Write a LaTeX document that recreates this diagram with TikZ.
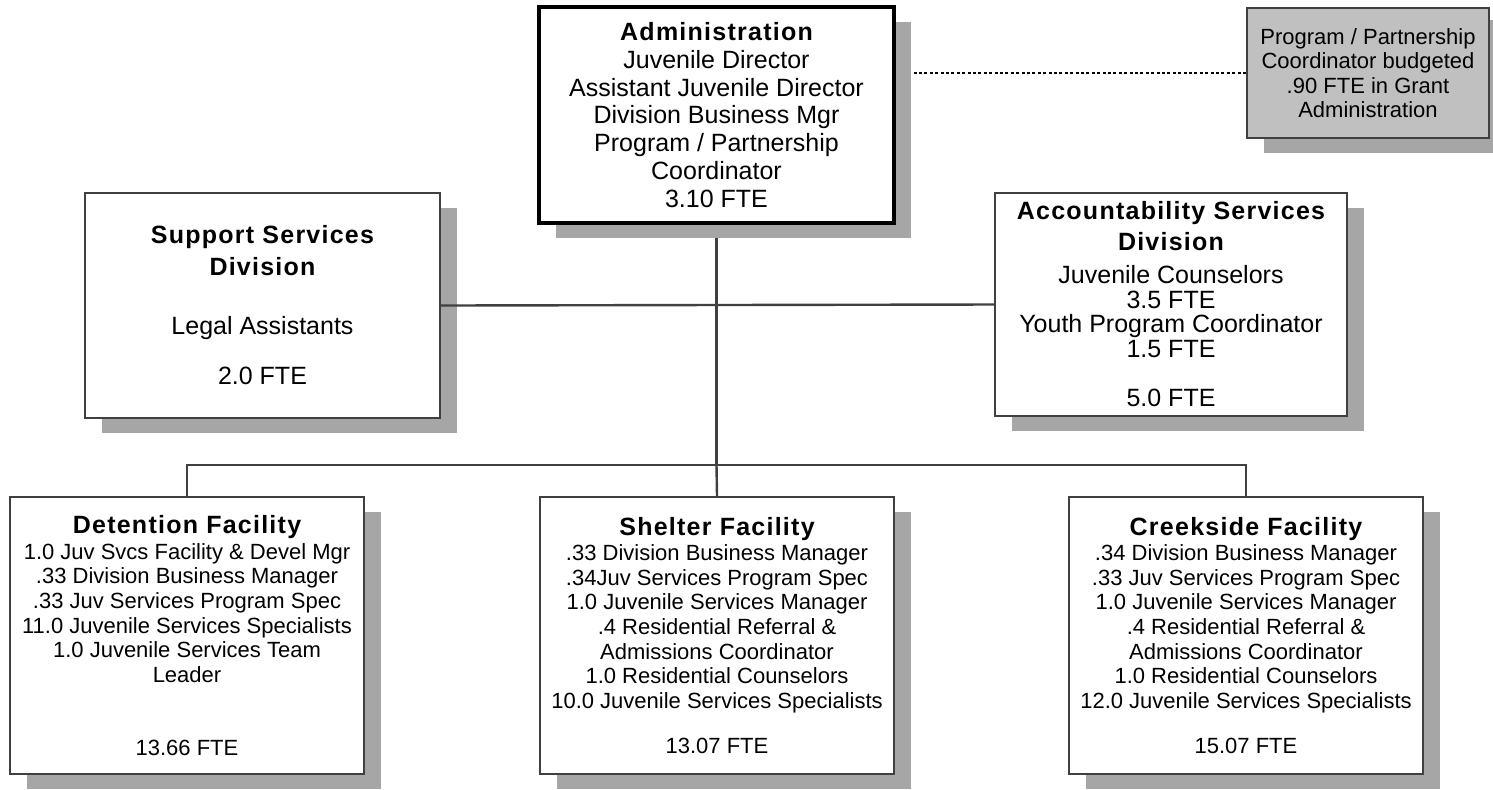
\documentclass[tikz,border=0pt]{standalone}
\usepackage{fontspec}
\setmainfont{Liberation Sans}
\newfontfamily\headfont[LetterSpace=5]{Liberation Sans}
\usetikzlibrary{shadows, backgrounds}
\definecolor{boxline}{HTML}{404040}
\definecolor{shadowgray}{HTML}{A6A6A6}
\definecolor{notefill}{HTML}{C0C0C0}
\newcommand\ttl[1]{{\headfont\bfseries\fontsize{12.5}{14}\selectfont #1}}

\begin{document}
\begin{tikzpicture}[x=0.5pt, y=-0.5pt,
  unit/.style={draw=boxline, line width=1pt, fill=white, inner sep=0pt, align=center,
    drop shadow={shadow xshift=8.5pt, shadow yshift=-7.5pt, opacity=1, fill=shadowgray}},
  facility/.style={unit, minimum width=177pt, minimum height=138.5pt, font=\fontsize{11}{12.3}\selectfont},
  link/.style={draw=boxline, line width=1.2pt}]
\useasboundingbox (0,0) rectangle (1493,789);

\begin{pgfonlayer}{background}
\coordinate (bus) at (716.5,465);
\end{pgfonlayer}

\node[unit, draw=black, line width=1.6pt, minimum width=177.5pt, minimum height=108pt,
  font=\fontsize{12.5}{13.85}\selectfont] (admin) at (716.5,115)
  {\ttl{Administration}\\ Juvenile Director\\ Assistant Juvenile Director\\ Division Business Mgr\\
   Program / Partnership\\ Coordinator\\ 3.10 FTE};

\node[unit, fill=notefill, minimum width=121pt, minimum height=65pt,
  drop shadow={shadow xshift=10pt, shadow yshift=-6pt, opacity=1, fill=shadowgray},
  font=\fontsize{11}{12.25}\selectfont] (grant) at (1368,73)
  {Program / Partnership\\ Coordinator budgeted\\ .90 FTE in Grant\\ Administration};

\node[unit, minimum width=177.5pt, minimum height=112.5pt, font=\fontsize{12.5}{12.5}\selectfont]
  (support) at (262.5,305.5)
  {\ttl{Support Services}\\[3.5pt] \ttl{Division}\\[17pt] Legal Assistants\\[12.5pt] 2.0 FTE};

\node[unit, minimum width=176pt, minimum height=111.5pt, font=\fontsize{12.5}{12.35}\selectfont]
  (acct) at (1171,304.5)
  {\ttl{Accountability Services}\\[3pt] \ttl{Division}\\[4pt] Juvenile Counselors\\ 3.5 FTE\\
   Youth Program Coordinator\\ 1.5 FTE\\[12.35pt] 5.0 FTE};

\node[facility] (detention) at (187,635.5)
  {\ttl{Detention Facility}\\[0.5pt] 1.0 Juv Svcs Facility \& Devel Mgr\\ .33 Division Business Manager\\
   .33 Juv Services Program Spec\\ 11.0 Juvenile Services Specialists\\ 1.0 Juvenile Services Team\\
   Leader\\[24.25pt] 13.66 FTE};

\node[facility] (shelter) at (717,635.5)
  {\ttl{Shelter Facility}\\[0.5pt] .33 Division Business Manager\\ .34Juv Services Program Spec\\
   1.0 Juvenile Services Manager\\ .4 Residential Referral \&\\ Admissions Coordinator\\
   1.0 Residential Counselors\\ 10.0 Juvenile Services Specialists\\[10.5pt] 13.07 FTE};

\node[facility] (creekside) at (1246,635.5)
  {\ttl{Creekside Facility}\\[0.5pt] .34 Division Business Manager\\ .33 Juv Services Program Spec\\
   1.0 Juvenile Services Manager\\ .4 Residential Referral \&\\ Admissions Coordinator\\
   1.0 Residential Counselors\\ 12.0 Juvenile Services Specialists\\[10.5pt] 15.07 FTE};

\begin{pgfonlayer}{background}
\draw[link] (admin.south) -- (bus);
\draw[black, line width=1pt, dash pattern=on 1.5pt off 1.2pt] (grant.west) -- (grant.west -| admin.east);
\end{pgfonlayer}

\draw[link] (support.east) -- (acct.west);
\draw[link] (detention.north) |- (bus) -| (creekside.north);
\draw[link] (bus) -- (shelter.north);
\end{tikzpicture}
\end{document}
